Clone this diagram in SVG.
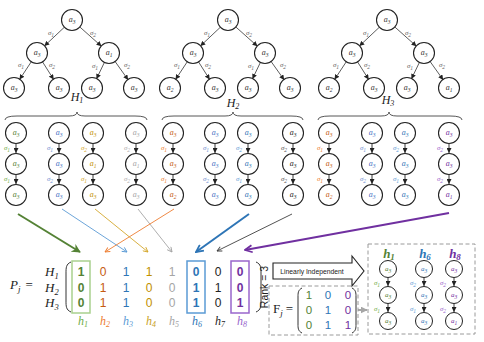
<svg xmlns="http://www.w3.org/2000/svg" width="484" height="342" viewBox="0 0 484 342">
<style>
.nd circle{fill:#fff;stroke:#222;stroke-width:1.1}
.nd text{font-family:"Liberation Serif",serif;font-style:italic;font-size:8px;text-anchor:middle;fill:#333}
.sm circle{stroke-width:1}
.s{font-size:5.5px}
.sg{font-family:"Liberation Serif",serif;font-style:italic;font-size:7px;text-anchor:middle;fill:#666}
.te{stroke:#333;stroke-width:0.8;fill:none;marker-end:url(#ah)}
.ce{stroke:#222;stroke-width:0.9;fill:none;marker-end:url(#ah)}
.hl{font-family:"Liberation Serif",serif;font-style:italic;font-size:12px;text-anchor:middle;fill:#222}
.hs{font-size:8px}
.br{fill:none;stroke:#444;stroke-width:0.9}
.mx{font-family:"Liberation Sans",Arial,sans-serif;font-size:12px;text-anchor:middle}
.b{font-weight:bold}
.ml{font-family:"Liberation Serif",serif;font-style:italic;font-size:13px;fill:#222}
.hb{font-family:"Liberation Serif",serif;font-style:italic;font-size:12px;text-anchor:middle}
.par{fill:none;stroke:#333;stroke-width:1}
.dash{fill:none;stroke:#9a9a9a;stroke-width:1;stroke-dasharray:4 2.5}
.green text,.cgreen{fill:#548235}
.blue text,.cblue{fill:#4472C4}
.gold text,.cgold{fill:#BF9000}
.gray text,.cgray{fill:#A5A5A5}
.orange text,.corange{fill:#C55A11}
.sky text,.csky{fill:#2E75B6}
.black text,.cblack{fill:#222}
.purple text,.cpurple{fill:#7030A0}
</style>
<defs>
<marker id="ah" viewBox="0 0 10 10" refX="10" refY="5" markerWidth="5" markerHeight="5" markerUnits="userSpaceOnUse" orient="auto"><path d="M0,0 L10,5 L0,10 z" fill="#222"/></marker>
<marker id="mGreen" viewBox="0 0 10 10" refX="9" refY="5" markerWidth="9" markerHeight="9" markerUnits="userSpaceOnUse" orient="auto"><path d="M0,0 L10,5 L0,10 L3,5 z" fill="#548235"/></marker>
<marker id="mBlue" viewBox="0 0 10 10" refX="9" refY="5" markerWidth="6" markerHeight="6" markerUnits="userSpaceOnUse" orient="auto"><path d="M1,1 L9,5 L1,9" fill="none" stroke="#5B9BD5" stroke-width="1.5"/></marker>
<marker id="mGold" viewBox="0 0 10 10" refX="9" refY="5" markerWidth="6" markerHeight="6" markerUnits="userSpaceOnUse" orient="auto"><path d="M1,1 L9,5 L1,9" fill="none" stroke="#D4A72C" stroke-width="1.5"/></marker>
<marker id="mGray" viewBox="0 0 10 10" refX="9" refY="5" markerWidth="6" markerHeight="6" markerUnits="userSpaceOnUse" orient="auto"><path d="M1,1 L9,5 L1,9" fill="none" stroke="#A5A5A5" stroke-width="1.5"/></marker>
<marker id="mOrange" viewBox="0 0 10 10" refX="9" refY="5" markerWidth="6" markerHeight="6" markerUnits="userSpaceOnUse" orient="auto"><path d="M1,1 L9,5 L1,9" fill="none" stroke="#ED7D31" stroke-width="1.5"/></marker>
<marker id="mSky" viewBox="0 0 10 10" refX="9" refY="5" markerWidth="9" markerHeight="9" markerUnits="userSpaceOnUse" orient="auto"><path d="M1,1 L9,5 L1,9" fill="none" stroke="#2E75B6" stroke-width="2"/></marker>
<marker id="mBlack" viewBox="0 0 10 10" refX="9" refY="5" markerWidth="6" markerHeight="6" markerUnits="userSpaceOnUse" orient="auto"><path d="M1,1 L9,5 L1,9" fill="none" stroke="#404040" stroke-width="1.5"/></marker>
<marker id="mPurple" viewBox="0 0 10 10" refX="9" refY="5" markerWidth="9" markerHeight="9" markerUnits="userSpaceOnUse" orient="auto"><path d="M1,1 L9,5 L1,9" fill="none" stroke="#7030A0" stroke-width="2"/></marker>
<marker id="mLG" viewBox="0 0 10 10" refX="9" refY="5" markerWidth="7" markerHeight="7" markerUnits="userSpaceOnUse" orient="auto"><path d="M0,0 L10,5 L0,10 z" fill="#A6A6A6"/></marker>
</defs>

<!-- ============ CONNECTORS ============ -->
<g id="connectors">
  <!-- tree edges -->
  <g id="tree1-edges" transform="translate(72,0)">
    <path class="te" d="M-7.3,26.9 L-27.7,46.1"/><path class="te" d="M7.5,26.7 L29.5,46.3"/>
    <path class="te" d="M-40.5,61.4 L-52.5,79.6"/><path class="te" d="M-29.7,61.5 L-18.3,79.5"/>
    <path class="te" d="M32.6,62 L24.4,79"/><path class="te" d="M42.8,61.1 L56.2,79.9"/>
    <text class="sg" x="-21" y="35">σ<tspan class="s" dy="1.5">1</tspan></text>
    <text class="sg" x="21" y="35">σ<tspan class="s" dy="1.5">2</tspan></text>
    <text class="sg" x="-51" y="67">σ<tspan class="s" dy="1.5">1</tspan></text>
    <text class="sg" x="-20" y="67">σ<tspan class="s" dy="1.5">2</tspan></text>
    <text class="sg" x="23" y="68">σ<tspan class="s" dy="1.5">1</tspan></text>
    <text class="sg" x="55" y="67">σ<tspan class="s" dy="1.5">2</tspan></text>
  </g>
  <g id="tree2-edges" transform="translate(228,0)">
    <path class="te" d="M-7.3,26.9 L-27.7,46.1"/><path class="te" d="M7.5,26.7 L29.5,46.3"/>
    <path class="te" d="M-40.5,61.4 L-52.5,79.6"/><path class="te" d="M-29.7,61.5 L-18.3,79.5"/>
    <path class="te" d="M32.6,62 L24.4,79"/><path class="te" d="M42.8,61.1 L56.2,79.9"/>
    <text class="sg" x="-21" y="35">σ<tspan class="s" dy="1.5">1</tspan></text>
    <text class="sg" x="21" y="35">σ<tspan class="s" dy="1.5">2</tspan></text>
    <text class="sg" x="-51" y="67">σ<tspan class="s" dy="1.5">1</tspan></text>
    <text class="sg" x="-20" y="67">σ<tspan class="s" dy="1.5">2</tspan></text>
    <text class="sg" x="23" y="68">σ<tspan class="s" dy="1.5">1</tspan></text>
    <text class="sg" x="55" y="67">σ<tspan class="s" dy="1.5">2</tspan></text>
  </g>
  <g id="tree3-edges" transform="translate(387,0)">
    <path class="te" d="M-7.3,26.9 L-27.7,46.1"/><path class="te" d="M7.5,26.7 L29.5,46.3"/>
    <path class="te" d="M-40.5,61.4 L-52.5,79.6"/><path class="te" d="M-29.7,61.5 L-18.3,79.5"/>
    <path class="te" d="M32.6,62 L24.4,79"/><path class="te" d="M42.8,61.1 L56.2,79.9"/>
    <text class="sg" x="-21" y="35">σ<tspan class="s" dy="1.5">1</tspan></text>
    <text class="sg" x="21" y="35">σ<tspan class="s" dy="1.5">2</tspan></text>
    <text class="sg" x="-51" y="67">σ<tspan class="s" dy="1.5">1</tspan></text>
    <text class="sg" x="-20" y="67">σ<tspan class="s" dy="1.5">2</tspan></text>
    <text class="sg" x="23" y="68">σ<tspan class="s" dy="1.5">1</tspan></text>
    <text class="sg" x="55" y="67">σ<tspan class="s" dy="1.5">2</tspan></text>
  </g>

  <!-- chain edges -->
  <g id="chain-edges">
    <path class="ce" d="M16,144V153"/><path class="ce" d="M16,175V184"/>
    <path class="ce" d="M59,144V153"/><path class="ce" d="M59,175V184"/>
    <path class="ce" d="M93,144V153"/><path class="ce" d="M93,175V184"/>
    <path class="ce" d="M136,144V153"/><path class="ce" d="M136,175V184"/>
    <path class="ce" d="M173,144V153"/><path class="ce" d="M173,175V184"/>
    <path class="ce" d="M215,144V153"/><path class="ce" d="M215,175V184"/>
    <path class="ce" d="M248,144V153"/><path class="ce" d="M248,175V184"/>
    <path class="ce" d="M293,144V153"/><path class="ce" d="M293,175V184"/>
    <path class="ce" d="M329,144V153"/><path class="ce" d="M329,175V184"/>
    <path class="ce" d="M372,144V153"/><path class="ce" d="M372,175V184"/>
    <path class="ce" d="M405,144V153"/><path class="ce" d="M405,175V184"/>
    <path class="ce" d="M449,144V153"/><path class="ce" d="M449,175V184"/>
  </g>
  <g id="chain-edge-labels">
    <text class="sg" x="7" y="150" style="fill:#70AD47">σ<tspan class="s" dy="1.5">1</tspan></text>
    <text class="sg" x="7" y="181" style="fill:#70AD47">σ<tspan class="s" dy="1.5">1</tspan></text>
    <text class="sg" x="50" y="150" style="fill:#6F8FD0">σ<tspan class="s" dy="1.5">1</tspan></text>
    <text class="sg" x="50" y="181" style="fill:#6F8FD0">σ<tspan class="s" dy="1.5">2</tspan></text>
    <text class="sg" x="84" y="150" style="fill:#D4A72C">σ<tspan class="s" dy="1.5">2</tspan></text>
    <text class="sg" x="84" y="181" style="fill:#D4A72C">σ<tspan class="s" dy="1.5">1</tspan></text>
    <text class="sg" x="127" y="150" style="fill:#AFAFAF">σ<tspan class="s" dy="1.5">2</tspan></text>
    <text class="sg" x="127" y="181" style="fill:#AFAFAF">σ<tspan class="s" dy="1.5">2</tspan></text>

    <text class="sg" x="164" y="150" style="fill:#ED7D31">σ<tspan class="s" dy="1.5">1</tspan></text>
    <text class="sg" x="164" y="181" style="fill:#ED7D31">σ<tspan class="s" dy="1.5">1</tspan></text>
    <text class="sg" x="206" y="150" style="fill:#6F8FD0">σ<tspan class="s" dy="1.5">1</tspan></text>
    <text class="sg" x="206" y="181" style="fill:#6F8FD0">σ<tspan class="s" dy="1.5">2</tspan></text>
    <text class="sg" x="239" y="150" style="fill:#5B9BD5">σ<tspan class="s" dy="1.5">2</tspan></text>
    <text class="sg" x="239" y="181" style="fill:#5B9BD5">σ<tspan class="s" dy="1.5">1</tspan></text>
    <text class="sg" x="284" y="150" style="fill:#555">σ<tspan class="s" dy="1.5">2</tspan></text>
    <text class="sg" x="284" y="181" style="fill:#555">σ<tspan class="s" dy="1.5">2</tspan></text>

    <text class="sg" x="320" y="150" style="fill:#ED7D31">σ<tspan class="s" dy="1.5">1</tspan></text>
    <text class="sg" x="320" y="181" style="fill:#ED7D31">σ<tspan class="s" dy="1.5">1</tspan></text>
    <text class="sg" x="363" y="150" style="fill:#6F8FD0">σ<tspan class="s" dy="1.5">1</tspan></text>
    <text class="sg" x="363" y="181" style="fill:#6F8FD0">σ<tspan class="s" dy="1.5">2</tspan></text>
    <text class="sg" x="396" y="150" style="fill:#5B9BD5">σ<tspan class="s" dy="1.5">2</tspan></text>
    <text class="sg" x="396" y="181" style="fill:#5B9BD5">σ<tspan class="s" dy="1.5">1</tspan></text>
    <text class="sg" x="440" y="150" style="fill:#9966CC">σ<tspan class="s" dy="1.5">2</tspan></text>
    <text class="sg" x="440" y="181" style="fill:#9966CC">σ<tspan class="s" dy="1.5">2</tspan></text>
  </g>

  <!-- chain -> matrix arrows -->
  <g id="map-arrows" fill="none">
    <path d="M18,214 L80,252" stroke="#548235" stroke-width="2" marker-end="url(#mGreen)"/>
    <path d="M62,209 L127,252" stroke="#5B9BD5" stroke-width="0.9" marker-end="url(#mBlue)"/>
    <path d="M95,209 L148,252" stroke="#D4A72C" stroke-width="0.9" marker-end="url(#mGold)"/>
    <path d="M138,209 L172,252" stroke="#A5A5A5" stroke-width="0.9" marker-end="url(#mGray)"/>
    <path d="M174,209 L105,252" stroke="#ED7D31" stroke-width="0.9" marker-end="url(#mOrange)"/>
    <path d="M249,214 L196,252" stroke="#2E75B6" stroke-width="2" marker-end="url(#mSky)"/>
    <path d="M292,214 L217,251" stroke="#404040" stroke-width="0.9" marker-end="url(#mBlack)"/>
    <path d="M449,213 L245,250" stroke="#7030A0" stroke-width="2" marker-end="url(#mPurple)"/>
  </g>

  <!-- basis chain edges -->
  <g id="basis-edges">
    <path class="ce" d="M388,278V286"/><path class="ce" d="M388,304V312"/>
    <path class="ce" d="M424,278V286"/><path class="ce" d="M424,304V312"/>
    <path class="ce" d="M454,278V286"/><path class="ce" d="M454,304V312"/>
    <text class="sg" x="377" y="285" style="fill:#70AD47">σ<tspan class="s" dy="1.5">1</tspan></text>
    <text class="sg" x="377" y="311" style="fill:#70AD47">σ<tspan class="s" dy="1.5">1</tspan></text>
    <text class="sg" x="413" y="285" style="fill:#5B9BD5">σ<tspan class="s" dy="1.5">2</tspan></text>
    <text class="sg" x="413" y="311" style="fill:#5B9BD5">σ<tspan class="s" dy="1.5">1</tspan></text>
    <text class="sg" x="443" y="285" style="fill:#9966CC">σ<tspan class="s" dy="1.5">2</tspan></text>
    <text class="sg" x="443" y="311" style="fill:#9966CC">σ<tspan class="s" dy="1.5">2</tspan></text>
  </g>

  <!-- F_j -> basis arrow -->
  <path id="to-basis" d="M358,310 L367,310" stroke="#A6A6A6" stroke-width="2" fill="none" marker-end="url(#mLG)"/>
</g>

<!-- ============ TREES ============ -->
<g id="tree1">
  <g id="t1-root" class="nd" transform="translate(72,20)"><circle r="10.5"/><text y="2">a<tspan class="s" dy="1.5">3</tspan></text></g>
  <g id="t1-l" class="nd" transform="translate(37,53)"><circle r="10.5"/><text y="2">a<tspan class="s" dy="1.5">3</tspan></text></g>
  <g id="t1-r" class="nd" transform="translate(109,53)"><circle r="10.5"/><text y="2">a<tspan class="s" dy="1.5">1</tspan></text></g>
  <g id="t1-ll" class="nd" transform="translate(14,88)"><circle r="10.5"/><text y="2">a<tspan class="s" dy="1.5">3</tspan></text></g>
  <g id="t1-lr" class="nd" transform="translate(59,88)"><circle r="10.5"/><text y="2">a<tspan class="s" dy="1.5">3</tspan></text></g>
  <g id="t1-rl" class="nd" transform="translate(92,88)"><circle r="10.5"/><text y="2">a<tspan class="s" dy="1.5">3</tspan></text></g>
  <g id="t1-rr" class="nd" transform="translate(134,88)"><circle r="10.5"/><text y="2">a<tspan class="s" dy="1.5">3</tspan></text></g>
</g>
<g id="tree2">
  <g id="t2-root" class="nd" transform="translate(228,20)"><circle r="10.5"/><text y="2">a<tspan class="s" dy="1.5">3</tspan></text></g>
  <g id="t2-l" class="nd" transform="translate(193,53)"><circle r="10.5"/><text y="2">a<tspan class="s" dy="1.5">3</tspan></text></g>
  <g id="t2-r" class="nd" transform="translate(265,53)"><circle r="10.5"/><text y="2">a<tspan class="s" dy="1.5">3</tspan></text></g>
  <g id="t2-ll" class="nd" transform="translate(170,88)"><circle r="10.5"/><text y="2">a<tspan class="s" dy="1.5">2</tspan></text></g>
  <g id="t2-lr" class="nd" transform="translate(215,88)"><circle r="10.5"/><text y="2">a<tspan class="s" dy="1.5">3</tspan></text></g>
  <g id="t2-rl" class="nd" transform="translate(248,88)"><circle r="10.5"/><text y="2">a<tspan class="s" dy="1.5">3</tspan></text></g>
  <g id="t2-rr" class="nd" transform="translate(290,88)"><circle r="10.5"/><text y="2">a<tspan class="s" dy="1.5">3</tspan></text></g>
</g>
<g id="tree3">
  <g id="t3-root" class="nd" transform="translate(387,20)"><circle r="10.5"/><text y="2">a<tspan class="s" dy="1.5">3</tspan></text></g>
  <g id="t3-l" class="nd" transform="translate(352,53)"><circle r="10.5"/><text y="2">a<tspan class="s" dy="1.5">3</tspan></text></g>
  <g id="t3-r" class="nd" transform="translate(424,53)"><circle r="10.5"/><text y="2">a<tspan class="s" dy="1.5">3</tspan></text></g>
  <g id="t3-ll" class="nd" transform="translate(329,88)"><circle r="10.5"/><text y="2">a<tspan class="s" dy="1.5">2</tspan></text></g>
  <g id="t3-lr" class="nd" transform="translate(374,88)"><circle r="10.5"/><text y="2">a<tspan class="s" dy="1.5">3</tspan></text></g>
  <g id="t3-rl" class="nd" transform="translate(407,88)"><circle r="10.5"/><text y="2">a<tspan class="s" dy="1.5">3</tspan></text></g>
  <g id="t3-rr" class="nd" transform="translate(449,88)"><circle r="10.5"/><text y="2">a<tspan class="s" dy="1.5">1</tspan></text></g>
</g>

<!-- H labels and braces -->
<g id="h-labels">
  <text class="hl" x="77" y="101">H<tspan class="hs" dy="2">1</tspan></text>
  <text class="hl" x="233" y="107">H<tspan class="hs" dy="2">2</tspan></text>
  <text class="hl" x="388" y="104">H<tspan class="hs" dy="2">3</tspan></text>
  <path class="br" d="M5,120 Q5,116 17,116 L69,116 Q77,116 77,112 Q77,116 85,116 L135,116 Q147,116 147,120"/>
  <path class="br" d="M162,120 Q162,116 174,116 L225,116 Q233,116 233,112 Q233,116 241,116 L291,116 Q303,116 303,120"/>
  <path class="br" d="M318,120 Q318,116 330,116 L381,116 Q389,116 389,112 Q389,116 397,116 L450,116 Q462,116 462,120"/>
</g>

<!-- ============ CHAINS ============ -->
<g id="chains-H1">
  <g id="c1-h1-1" class="nd green" transform="translate(16,133)"><circle r="10.5"/><text y="2">a<tspan class="s" dy="1.5">3</tspan></text></g>
  <g id="c1-h1-2" class="nd green" transform="translate(16,164)"><circle r="10.5"/><text y="2">a<tspan class="s" dy="1.5">3</tspan></text></g>
  <g id="c1-h1-3" class="nd green" transform="translate(16,195)"><circle r="10.5"/><text y="2">a<tspan class="s" dy="1.5">3</tspan></text></g>
  <g id="c1-h3-1" class="nd blue" transform="translate(59,133)"><circle r="10.5"/><text y="2">a<tspan class="s" dy="1.5">3</tspan></text></g>
  <g id="c1-h3-2" class="nd blue" transform="translate(59,164)"><circle r="10.5"/><text y="2">a<tspan class="s" dy="1.5">3</tspan></text></g>
  <g id="c1-h3-3" class="nd blue" transform="translate(59,195)"><circle r="10.5"/><text y="2">a<tspan class="s" dy="1.5">3</tspan></text></g>
  <g id="c1-h4-1" class="nd gold" transform="translate(93,133)"><circle r="10.5"/><text y="2">a<tspan class="s" dy="1.5">3</tspan></text></g>
  <g id="c1-h4-2" class="nd gold" transform="translate(93,164)"><circle r="10.5"/><text y="2">a<tspan class="s" dy="1.5">1</tspan></text></g>
  <g id="c1-h4-3" class="nd gold" transform="translate(93,195)"><circle r="10.5"/><text y="2">a<tspan class="s" dy="1.5">3</tspan></text></g>
  <g id="c1-h5-1" class="nd gray" transform="translate(136,133)"><circle r="10.5"/><text y="2">a<tspan class="s" dy="1.5">3</tspan></text></g>
  <g id="c1-h5-2" class="nd gray" transform="translate(136,164)"><circle r="10.5"/><text y="2">a<tspan class="s" dy="1.5">1</tspan></text></g>
  <g id="c1-h5-3" class="nd gray" transform="translate(136,195)"><circle r="10.5"/><text y="2">a<tspan class="s" dy="1.5">3</tspan></text></g>
</g>
<g id="chains-H2">
  <g id="c2-h2-1" class="nd orange" transform="translate(173,133)"><circle r="10.5"/><text y="2">a<tspan class="s" dy="1.5">3</tspan></text></g>
  <g id="c2-h2-2" class="nd orange" transform="translate(173,164)"><circle r="10.5"/><text y="2">a<tspan class="s" dy="1.5">3</tspan></text></g>
  <g id="c2-h2-3" class="nd orange" transform="translate(173,195)"><circle r="10.5"/><text y="2">a<tspan class="s" dy="1.5">2</tspan></text></g>
  <g id="c2-h3-1" class="nd blue" transform="translate(215,133)"><circle r="10.5"/><text y="2">a<tspan class="s" dy="1.5">3</tspan></text></g>
  <g id="c2-h3-2" class="nd blue" transform="translate(215,164)"><circle r="10.5"/><text y="2">a<tspan class="s" dy="1.5">3</tspan></text></g>
  <g id="c2-h3-3" class="nd blue" transform="translate(215,195)"><circle r="10.5"/><text y="2">a<tspan class="s" dy="1.5">3</tspan></text></g>
  <g id="c2-h6-1" class="nd sky" transform="translate(248,133)"><circle r="10.5"/><text y="2">a<tspan class="s" dy="1.5">3</tspan></text></g>
  <g id="c2-h6-2" class="nd sky" transform="translate(248,164)"><circle r="10.5"/><text y="2">a<tspan class="s" dy="1.5">3</tspan></text></g>
  <g id="c2-h6-3" class="nd sky" transform="translate(248,195)"><circle r="10.5"/><text y="2">a<tspan class="s" dy="1.5">3</tspan></text></g>
  <g id="c2-h7-1" class="nd black" transform="translate(293,133)"><circle r="10.5"/><text y="2">a<tspan class="s" dy="1.5">3</tspan></text></g>
  <g id="c2-h7-2" class="nd black" transform="translate(293,164)"><circle r="10.5"/><text y="2">a<tspan class="s" dy="1.5">3</tspan></text></g>
  <g id="c2-h7-3" class="nd black" transform="translate(293,195)"><circle r="10.5"/><text y="2">a<tspan class="s" dy="1.5">3</tspan></text></g>
</g>
<g id="chains-H3">
  <g id="c3-h2-1" class="nd orange" transform="translate(329,133)"><circle r="10.5"/><text y="2">a<tspan class="s" dy="1.5">3</tspan></text></g>
  <g id="c3-h2-2" class="nd orange" transform="translate(329,164)"><circle r="10.5"/><text y="2">a<tspan class="s" dy="1.5">3</tspan></text></g>
  <g id="c3-h2-3" class="nd orange" transform="translate(329,195)"><circle r="10.5"/><text y="2">a<tspan class="s" dy="1.5">2</tspan></text></g>
  <g id="c3-h3-1" class="nd blue" transform="translate(372,133)"><circle r="10.5"/><text y="2">a<tspan class="s" dy="1.5">3</tspan></text></g>
  <g id="c3-h3-2" class="nd blue" transform="translate(372,164)"><circle r="10.5"/><text y="2">a<tspan class="s" dy="1.5">3</tspan></text></g>
  <g id="c3-h3-3" class="nd blue" transform="translate(372,195)"><circle r="10.5"/><text y="2">a<tspan class="s" dy="1.5">3</tspan></text></g>
  <g id="c3-h6-1" class="nd sky" transform="translate(405,133)"><circle r="10.5"/><text y="2">a<tspan class="s" dy="1.5">3</tspan></text></g>
  <g id="c3-h6-2" class="nd sky" transform="translate(405,164)"><circle r="10.5"/><text y="2">a<tspan class="s" dy="1.5">3</tspan></text></g>
  <g id="c3-h6-3" class="nd sky" transform="translate(405,195)"><circle r="10.5"/><text y="2">a<tspan class="s" dy="1.5">3</tspan></text></g>
  <g id="c3-h8-1" class="nd purple" transform="translate(449,133)"><circle r="10.5"/><text y="2">a<tspan class="s" dy="1.5">3</tspan></text></g>
  <g id="c3-h8-2" class="nd purple" transform="translate(449,164)"><circle r="10.5"/><text y="2">a<tspan class="s" dy="1.5">3</tspan></text></g>
  <g id="c3-h8-3" class="nd purple" transform="translate(449,195)"><circle r="10.5"/><text y="2">a<tspan class="s" dy="1.5">1</tspan></text></g>
</g>

<!-- ============ MATRIX P_j ============ -->
<g id="matrix-P">
  <text class="ml" x="10" y="289">P<tspan style="font-size:9px" dy="3">j</tspan><tspan style="font-style:normal" dx="5" dy="-3">=</tspan></text>
  <text class="ml" x="45" y="276">H<tspan style="font-size:8.5px" dy="2.5">1</tspan></text>
  <text class="ml" x="45" y="292">H<tspan style="font-size:8.5px" dy="2.5">2</tspan></text>
  <text class="ml" x="45" y="307">H<tspan style="font-size:8.5px" dy="2.5">3</tspan></text>
  <path class="par" d="M71,262 C66,264 66,268 66,273 L66,301 C66,306 66,310 71,312"/>
  <path class="par" d="M256,262 C261,264 261,268 261,273 L261,301 C261,306 261,310 256,312"/>
  <rect x="72" y="261" width="18" height="52" fill="none" stroke="#A9D18E" stroke-width="1.5"/>
  <rect x="187" y="261" width="18" height="52" fill="none" stroke="#5B9BD5" stroke-width="1.5"/>
  <rect x="231" y="261" width="18" height="52" fill="none" stroke="#9966CC" stroke-width="1.5"/>
  <g class="mx">
    <text x="81" y="276" class="b cgreen">1</text><text x="81" y="292" class="b cgreen">0</text><text x="81" y="307" class="b cgreen">0</text>
    <text x="103" y="276" class="corange">0</text><text x="103" y="292" class="corange">1</text><text x="103" y="307" class="corange">1</text>
    <text x="126" y="276" class="csky">1</text><text x="126" y="292" class="csky">1</text><text x="126" y="307" class="csky">1</text>
    <text x="149" y="276" class="cgold">1</text><text x="149" y="292" class="cgold">0</text><text x="149" y="307" class="cgold">0</text>
    <text x="172" y="276" class="cgray">1</text><text x="172" y="292" class="cgray">0</text><text x="172" y="307" class="cgray">0</text>
    <text x="196" y="276" class="b csky">0</text><text x="196" y="292" class="b csky">1</text><text x="196" y="307" class="b csky">1</text>
    <text x="218" y="276" class="cblack">0</text><text x="218" y="292" class="cblack">1</text><text x="218" y="307" class="cblack">0</text>
    <text x="240" y="276" class="b cpurple">0</text><text x="240" y="292" class="b cpurple">0</text><text x="240" y="307" class="b cpurple">1</text>
  </g>
  <g class="hb">
    <text x="83" y="325" fill="#70AD47">h<tspan style="font-size:8px" dy="2">1</tspan></text>
    <text x="105" y="325" fill="#ED7D31">h<tspan style="font-size:8px" dy="2">2</tspan></text>
    <text x="128" y="325" fill="#5B9BD5">h<tspan style="font-size:8px" dy="2">3</tspan></text>
    <text x="151" y="325" fill="#C9A227">h<tspan style="font-size:8px" dy="2">4</tspan></text>
    <text x="174" y="325" fill="#A5A5A5">h<tspan style="font-size:8px" dy="2">5</tspan></text>
    <text x="197" y="325" fill="#2E75B6">h<tspan style="font-size:8px" dy="2">6</tspan></text>
    <text x="220" y="325" fill="#222">h<tspan style="font-size:8px" dy="2">7</tspan></text>
    <text x="242" y="325" fill="#9966CC">h<tspan style="font-size:8px" dy="2">8</tspan></text>
  </g>
  <text transform="translate(268,287) rotate(-90)" text-anchor="middle" font-family="Liberation Sans, Arial, sans-serif" font-size="10.5" fill="#222">Rank = 3</text>
</g>

<!-- Linearly independent arrow -->
<g id="lin-indep">
  <polygon points="273,263 352,263 352,256 364,271 352,286 352,279 273,279" fill="#fff" stroke="#222" stroke-width="1.1"/>
  <text x="312" y="273.5" text-anchor="middle" font-family="Liberation Sans, Arial, sans-serif" font-size="6.8" fill="#222">Linearly Independent</text>
</g>

<!-- F_j matrix -->
<g id="matrix-F">
  <rect class="dash" x="269" y="286" width="89" height="49"/>
  <text x="273" y="313" font-family="Liberation Serif, serif" font-size="13" fill="#222">F<tspan font-style="italic" font-size="9" dy="3">j</tspan><tspan dx="3" dy="-3">=</tspan></text>
  <path class="par" d="M302,288 C298,290 298,293 298,297 L298,324 C298,328 298,331 302,333"/>
  <path class="par" d="M354,288 C358,290 358,293 358,297 L358,324 C358,328 358,331 354,333" transform="translate(-2,0)"/>
  <g class="mx" style="font-size:11.5px">
    <text x="309" y="299" class="cgreen">1</text><text x="309" y="314" class="cgreen">0</text><text x="309" y="329" class="cgreen">0</text>
    <text x="328" y="299" class="csky">0</text><text x="328" y="314" class="csky">1</text><text x="328" y="329" class="csky">1</text>
    <text x="348" y="299" class="cpurple">0</text><text x="348" y="314" class="cpurple">0</text><text x="348" y="329" class="cpurple">1</text>
  </g>
</g>

<!-- basis box -->
<g id="basis">
  <rect class="dash" x="368" y="244" width="107" height="90"/>
  <text x="389" y="258" class="hb" style="font-weight:bold;font-size:13px" fill="#548235">h<tspan style="font-size:9px" dy="2">1</tspan></text>
  <text x="425" y="258" class="hb" style="font-weight:bold;font-size:13px" fill="#2E75B6">h<tspan style="font-size:9px" dy="2">6</tspan></text>
  <text x="455" y="258" class="hb" style="font-weight:bold;font-size:13px" fill="#7030A0">h<tspan style="font-size:9px" dy="2">8</tspan></text>
  <g id="b-h1-1" class="nd sm green" transform="translate(388,269)"><circle r="8.5"/><text y="2" style="font-size:7px">a<tspan class="s" dy="1.5">3</tspan></text></g>
  <g id="b-h1-2" class="nd sm green" transform="translate(388,295)"><circle r="8.5"/><text y="2" style="font-size:7px">a<tspan class="s" dy="1.5">3</tspan></text></g>
  <g id="b-h1-3" class="nd sm green" transform="translate(388,321)"><circle r="8.5"/><text y="2" style="font-size:7px">a<tspan class="s" dy="1.5">3</tspan></text></g>
  <g id="b-h6-1" class="nd sm sky" transform="translate(424,269)"><circle r="8.5"/><text y="2" style="font-size:7px">a<tspan class="s" dy="1.5">3</tspan></text></g>
  <g id="b-h6-2" class="nd sm sky" transform="translate(424,295)"><circle r="8.5"/><text y="2" style="font-size:7px">a<tspan class="s" dy="1.5">3</tspan></text></g>
  <g id="b-h6-3" class="nd sm sky" transform="translate(424,321)"><circle r="8.5"/><text y="2" style="font-size:7px">a<tspan class="s" dy="1.5">3</tspan></text></g>
  <g id="b-h8-1" class="nd sm purple" transform="translate(454,269)"><circle r="8.5"/><text y="2" style="font-size:7px">a<tspan class="s" dy="1.5">3</tspan></text></g>
  <g id="b-h8-2" class="nd sm purple" transform="translate(454,295)"><circle r="8.5"/><text y="2" style="font-size:7px">a<tspan class="s" dy="1.5">3</tspan></text></g>
  <g id="b-h8-3" class="nd sm purple" transform="translate(454,321)"><circle r="8.5"/><text y="2" style="font-size:7px">a<tspan class="s" dy="1.5">1</tspan></text></g>
</g>
</svg>
